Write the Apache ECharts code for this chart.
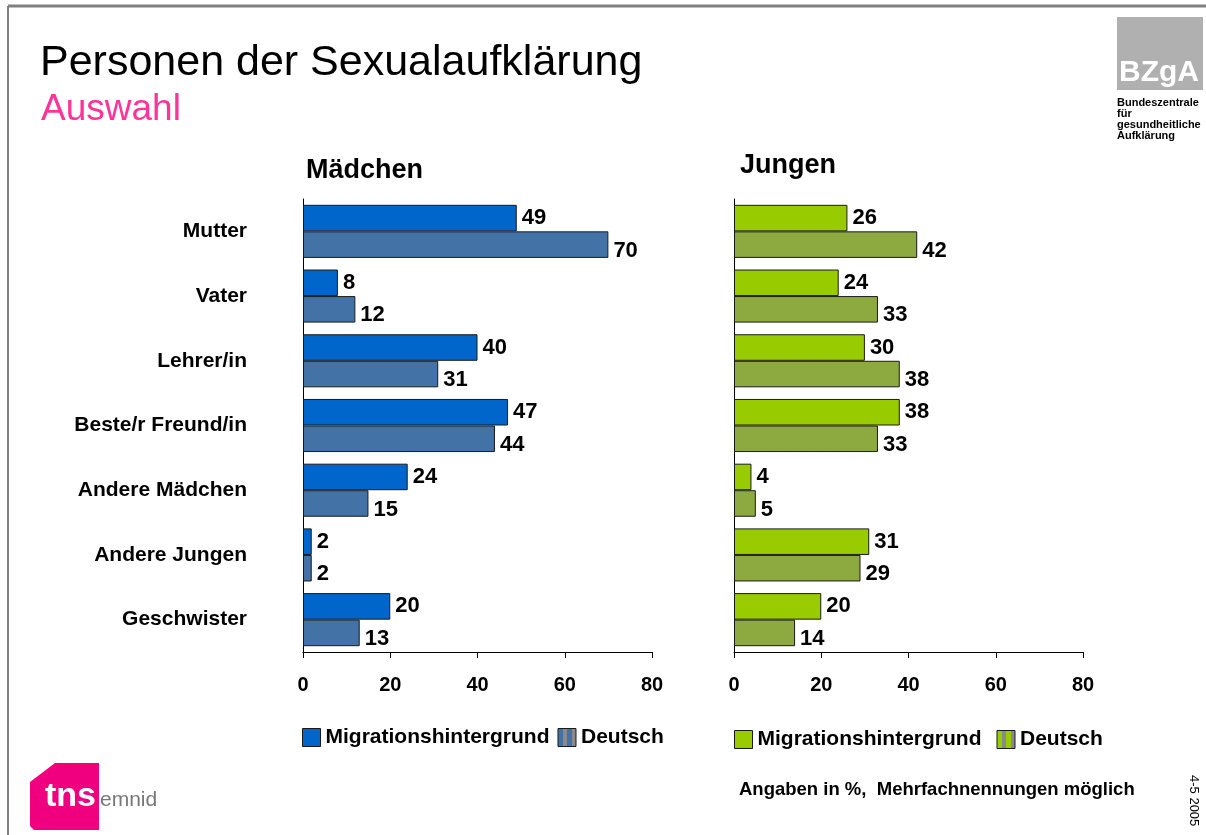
<!DOCTYPE html>
<html>
<head>
<meta charset="utf-8">
<script src="https://cdn.jsdelivr.net/npm/echarts@6/dist/echarts.min.js"></script>
<style>
  html, body { margin: 0; padding: 0; background: #fff; }
  #chart { width: 1206px; height: 835px; }
</style>
</head>
<body>
<div id="chart"></div>
<script>
(function () {
  // Daten (Werte in %)
  var categories = ["Mutter", "Vater", "Lehrer/in", "Beste/r Freund/in", "Andere Mädchen", "Andere Jungen", "Geschwister"];
  var maedchenMigration = [49, 8, 40, 47, 24, 2, 20];
  var maedchenDeutsch = [70, 12, 31, 44, 15, 2, 13];
  var jungenMigration = [26, 24, 30, 38, 4, 31, 20];
  var jungenDeutsch = [42, 33, 38, 33, 5, 29, 14];
  var xTicks = [0, 20, 40, 60, 80];

  var myChart = echarts.init(document.getElementById("chart"));
  var font = "Liberation Sans, Arial, sans-serif";

  function barLabel(dy) {
    return {
      show: true,
      position: "right",
      distance: 5,
      offset: [0, dy],
      color: "#000",
      fontSize: 22,
      fontWeight: "bold",
      fontFamily: font,
    };
  }

  function xAxis(idx) {
    return {
      gridIndex: idx,
      type: "value",
      min: xTicks[0],
      max: xTicks[xTicks.length - 1],
      interval: xTicks[1] - xTicks[0],
      axisLine: { show: true, lineStyle: { color: "#000", width: 1 } },
      axisTick: { show: true, length: 6, lineStyle: { color: "#000" } },
      splitLine: { show: false },
      axisLabel: {
        margin: 23,
        color: "#000",
        fontSize: 20,
        fontWeight: "bold",
        fontFamily: font,
      },
    };
  }

  function yAxis(idx, showLabels) {
    return {
      gridIndex: idx,
      type: "category",
      inverse: true,
      data: categories,
      axisLine: { show: true, onZero: false, lineStyle: { color: "#000", width: 1 } },
      axisTick: { show: false },
      axisLabel: {
        show: showLabels,
        margin: 56,
        color: "#000",
        fontSize: 21,
        fontWeight: "bold",
        fontFamily: font,
      },
    };
  }

  function bar(name, idx, data, color, dy) {
    return {
      name: name,
      type: "bar",
      xAxisIndex: idx,
      yAxisIndex: idx,
      data: data,
      barGap: "0%",
      barCategoryGap: "18%",
      itemStyle: { color: color, borderColor: "#1a1a1a", borderWidth: 1 },
      label: barLabel(dy),
    };
  }

  // gestreiftes Legendensymbol für "Deutsch"
  function stripes(c1, c2) {
    return {
      type: "linear", x: 0, y: 0, x2: 1, y2: 0,
      colorStops: [
        { offset: 0, color: c1 }, { offset: 0.3, color: c1 },
        { offset: 0.3, color: c2 }, { offset: 0.5, color: c2 },
        { offset: 0.5, color: c1 }, { offset: 0.75, color: c1 },
        { offset: 0.75, color: c2 }, { offset: 1, color: c2 },
      ],
    };
  }

  var legendText = {
    color: "#000",
    fontSize: 21,
    fontWeight: "bold",
    fontFamily: font,
  };
  var legendIcon = { borderColor: "#1a1a1a", borderWidth: 1 };

  var option = {
    backgroundColor: "#fff",
    animation: false,
    title: [
      { text: "Personen der Sexualaufklärung", left: 35, top: 37,
        textStyle: { fontSize: 43, fontWeight: "normal", color: "#000", fontFamily: font } },
      { text: "Auswahl", left: 36, top: 86,
        textStyle: { fontSize: 37, fontWeight: "normal", color: "#FF3399", fontFamily: font } },
      { text: "Mädchen", left: 301, top: 152,
        textStyle: { fontSize: 27, fontWeight: "bold", color: "#000", fontFamily: font } },
      { text: "Jungen", left: 735, top: 147,
        textStyle: { fontSize: 27, fontWeight: "bold", color: "#000", fontFamily: font } },
    ],
    legend: [
      {
        left: 297, top: 722,
        itemWidth: 18, itemHeight: 18, itemGap: 8,
        icon: "rect",
        data: [
          { name: "Migrationshintergrund M", itemStyle: legendIcon },
          { name: "Deutsch M", itemStyle: Object.assign({ color: stripes("#4272A6", "#8A8A8A") }, legendIcon) },
        ],
        formatter: function (n) { return n.split(" ")[0]; },
        textStyle: legendText,
        selectedMode: false,
      },
      {
        left: 729, top: 724,
        itemWidth: 18, itemHeight: 18, itemGap: 15,
        icon: "rect",
        data: [
          { name: "Migrationshintergrund J", itemStyle: legendIcon },
          { name: "Deutsch J", itemStyle: Object.assign({ color: stripes("#99CC00", "#8A8A8A") }, legendIcon) },
        ],
        formatter: function (n) { return n.split(" ")[0]; },
        textStyle: legendText,
        selectedMode: false,
      },
    ],
    grid: [
      { left: 303, width: 349, top: 199, height: 453 },
      { left: 734, width: 349, top: 199, height: 453 },
    ],
    xAxis: [xAxis(0), xAxis(1)],
    yAxis: [yAxis(0, true), yAxis(1, false)],
    series: [
      bar("Migrationshintergrund M", 0, maedchenMigration, "#0066CC", 0),
      bar("Deutsch M", 0, maedchenDeutsch, "#4272A6", 6),
      bar("Migrationshintergrund J", 1, jungenMigration, "#99CC00", 0),
      bar("Deutsch J", 1, jungenDeutsch, "#8DAA40", 6),
    ],
    graphic: [
      // Rahmen
      { type: "line", shape: { x1: 8, y1: 6, x2: 1206, y2: 6 }, style: { stroke: "#808080", lineWidth: 3 } },
      { type: "line", shape: { x1: 8, y1: 6, x2: 8, y2: 835 }, style: { stroke: "#808080", lineWidth: 2 } },
      // BZgA Logo
      { type: "rect", shape: { x: 1117, y: 17, width: 86, height: 73 }, style: { fill: "#B0B0B0" } },
      { type: "text", left: 1119, top: 58,
        style: { text: "BZgA", fill: "#fff", font: "bold 30px " + font } },
      { type: "text", left: 1117, top: 97,
        style: { text: "Bundeszentrale\nfür\ngesundheitliche\nAufklärung", fill: "#000",
                 font: "bold 11px " + font, lineHeight: 11 } },
      // tns emnid Logo
      { type: "polygon",
        shape: { points: [[55, 763], [99, 763], [99, 830], [34, 830], [30, 826], [30, 782]] },
        style: { fill: "#F0007F" } },
      { type: "text", left: 45, top: 780,
        style: { text: "tns", fill: "#fff", font: "bold 34px " + font } },
      { type: "text", left: 100, top: 790,
        style: { text: "emnid", fill: "#777", font: "21px " + font } },
      // Fußnoten
      { type: "text", left: 739, top: 780,
        style: { text: "Angaben in %,  Mehrfachnennungen möglich", fill: "#000", font: "bold 18.5px " + font } },
      { type: "text", x: 1200, y: 775, rotation: -Math.PI / 2,
        style: { text: "4-5 2005", fill: "#000", font: "13px " + font } },
    ],
  };

  myChart.setOption(option);

  window.addEventListener("resize", function () {
    myChart.resize();
  });
})();
</script>
</body>
</html>
